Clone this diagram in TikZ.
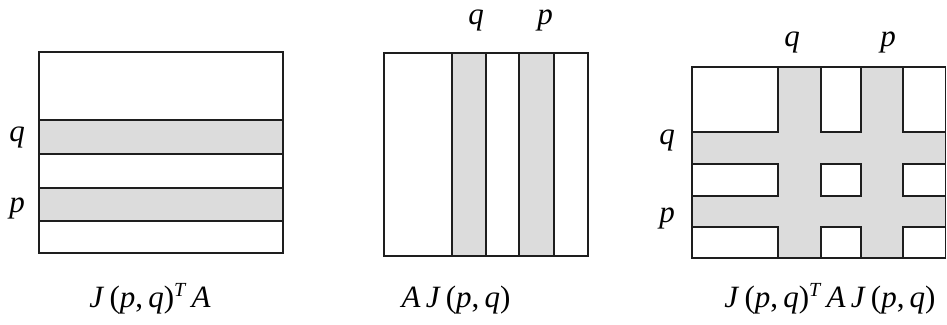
\documentclass[tikz,border=0pt]{standalone}
\usepackage{fontspec}
\setmainfont{Liberation Serif}
\definecolor{bandgray}{HTML}{DCDCDC}
\definecolor{linegray}{HTML}{1E1E1E}
\newcommand{\supT}{\raisebox{11pt}{\fontsize{20}{22}\selectfont\textit{T}}}
\begin{document}
\begin{tikzpicture}[x=1pt,y=-1pt,
  frame/.style={draw=linegray,line width=1.8pt},
  band/.style={fill=bandgray},
  cell/.style={fill=white,draw=linegray,line width=1.8pt},
  letter/.style={inner sep=0pt,font=\fontsize{31}{34}\selectfont\itshape},
  caption/.style={inner sep=0pt,anchor=base,font=\fontsize{31}{34}\selectfont}]
\useasboundingbox (0,0) rectangle (947,324);
% left box
\fill[white] (39,52) rectangle (283,253);
\fill[band] (39,120) rectangle (283,154);
\fill[band] (39,188) rectangle (283,221);
\draw[frame] (39,120) -- (283,120) (39,154) -- (283,154) (39,188) -- (283,188) (39,221) -- (283,221);
\draw[frame] (39,52) rectangle (283,253);
\node[letter] (lq) at (17,137) {q};
\node[letter] (lp) at (17,208) {p};
% middle box
\fill[band] (451.7,53) rectangle (485.7,256);
\fill[band] (519.3,53) rectangle (553.7,256);
\draw[frame] (451.7,53) -- (451.7,256) (485.7,53) -- (485.7,256) (519.3,53) -- (519.3,256) (553.7,53) -- (553.7,256);
\draw[frame] (384,53) rectangle (588,256);
\node[letter] (mq) at (476,20) {q};
\node[letter] (mp) at (545,20) {p};
% right box
\fill[band] (692,67) rectangle (945.5,258);
\foreach \xa/\xb in {692/778,821/861,903/945.5}{
  \foreach \ya/\yb in {67/132,164/196,227/258}{
    \draw[cell] (\xa,\ya) rectangle (\xb,\yb);
  }
}
\draw[frame] (692,67) rectangle (945.5,258);
\node[letter] (rq) at (792,42) {q};
\node[letter] (rp) at (888,42) {p};
\node[letter] (rlq) at (667,140) {q};
\node[letter] (rlp) at (667,218) {p};
% captions
\node[caption] (c1) at (150,307) {\textit{J}\,(\textit{p},\,\textit{q})\supT\,\textit{A}};
\node[caption] (c2) at (456,307) {\textit{A}\,\textit{J}\,(\textit{p},\,\textit{q})};
\node[caption] (c3) at (830,307) {\textit{J}\,(\textit{p},\,\textit{q})\supT\,\textit{A}\,\textit{J}\,(\textit{p},\,\textit{q})};
\end{tikzpicture}
\end{document}
